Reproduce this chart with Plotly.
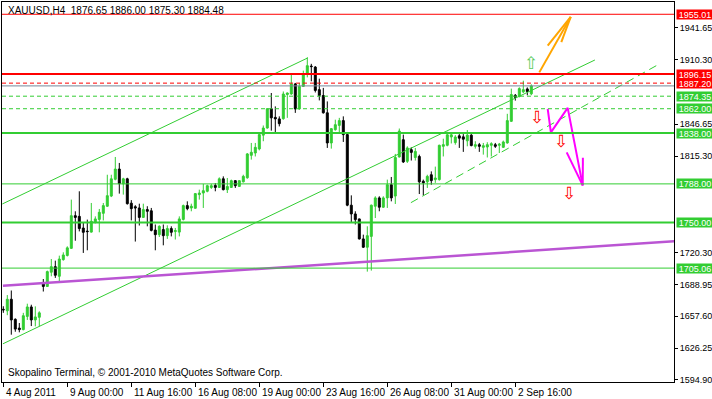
import plotly.graph_objects as go

# ---------------- data ----------------
bar_index = list(range(133))
opens = [1664.5, 1663.0, 1674.4, 1654.6, 1646.0, 1644.5, 1657.5, 1666.8, 1654.0, 1656.6,
         1689.4, 1687.0, 1701.0, 1706.5, 1697.0, 1713.4, 1717.5, 1724.5, 1756.7, 1756.0,
         1744.5, 1741.5, 1740.5, 1750.2, 1753.0, 1759.0, 1766.0, 1776.0, 1792.5, 1802.6,
         1788.0, 1793.0, 1769.0, 1765.5, 1764.3, 1755.0, 1762.7, 1761.5, 1742.5, 1738.0,
         1743.0, 1737.0, 1744.0, 1741.0, 1740.5, 1753.0, 1766.6, 1764.3, 1764.0, 1777.4,
         1779.0, 1780.7, 1784.5, 1786.5, 1784.5, 1793.0, 1782.3, 1784.5, 1791.2, 1785.5,
         1790.0, 1794.0, 1816.1, 1818.4, 1822.4, 1836.0, 1843.0, 1862.0, 1853.5, 1852.0,
         1852.2, 1876.0, 1876.5, 1886.4, 1861.8, 1884.0, 1896.5, 1904.0, 1903.0, 1880.8,
         1875.0, 1858.0, 1828.3, 1841.4, 1845.6, 1850.3, 1836.5, 1767.0, 1758.4, 1753.5,
         1733.8, 1725.6, 1736.3, 1766.0, 1774.2, 1765.0, 1774.2, 1787.2, 1776.0, 1814.5,
         1831.5, 1810.2, 1821.7, 1814.0, 1815.0, 1790.6, 1790.0, 1797.0, 1792.2, 1792.2,
         1825.0, 1826.0, 1834.2, 1828.7, 1835.3, 1834.3, 1830.4, 1836.0, 1825.0, 1826.6,
         1824.0, 1824.3, 1826.0, 1826.6, 1826.0, 1824.0, 1828.3, 1849.6, 1875.2, 1874.2,
         1878.6, 1881.5, 1876.65]
highs = [1667.5, 1678.5, 1683.0, 1655.6, 1651.0, 1661.0, 1670.0, 1669.0, 1667.4, 1662.5,
         1694.3, 1702.6, 1714.0, 1712.4, 1717.3, 1720.6, 1726.5, 1772.5, 1761.0, 1780.7,
         1749.5, 1752.8, 1769.2, 1756.0, 1763.3, 1769.2, 1797.0, 1797.0, 1814.5, 1808.6,
         1794.0, 1794.0, 1772.0, 1767.0, 1768.5, 1768.5, 1766.0, 1764.3, 1748.0, 1747.2,
         1748.0, 1747.2, 1746.2, 1744.6, 1756.0, 1767.6, 1770.8, 1768.5, 1779.0, 1782.3,
         1788.0, 1787.2, 1788.0, 1788.8, 1794.4, 1795.4, 1793.8, 1792.2, 1791.5, 1791.5,
         1797.0, 1818.4, 1828.3, 1828.3, 1837.4, 1845.5, 1862.7, 1877.5, 1864.3, 1854.5,
         1879.0, 1878.0, 1895.5, 1887.4, 1887.4, 1899.5, 1912.6, 1906.2, 1904.0, 1891.6,
         1882.5, 1869.2, 1843.0, 1851.2, 1853.0, 1854.5, 1838.0, 1776.7, 1761.0, 1753.8,
         1738.0, 1746.2, 1767.6, 1775.8, 1775.8, 1775.8, 1792.2, 1794.8, 1817.5, 1842.5,
         1836.5, 1825.0, 1824.0, 1823.4, 1816.8, 1792.2, 1797.0, 1800.3, 1805.0, 1826.6,
         1832.5, 1839.3, 1837.6, 1836.0, 1837.0, 1837.0, 1841.0, 1837.0, 1830.0, 1828.3,
         1828.3, 1829.0, 1829.0, 1828.3, 1828.3, 1830.6, 1857.0, 1881.8, 1876.5, 1883.1,
         1889.6, 1883.0, 1886.00]
lows = [1661.0, 1658.7, 1639.5, 1642.4, 1641.8, 1643.8, 1654.0, 1648.0, 1647.7, 1647.7,
        1682.0, 1686.5, 1697.0, 1695.4, 1692.0, 1712.4, 1716.5, 1724.0, 1732.0, 1741.2,
        1720.0, 1722.6, 1740.0, 1749.0, 1740.3, 1752.0, 1765.3, 1775.0, 1791.5, 1778.4,
        1777.4, 1767.6, 1752.0, 1731.2, 1747.0, 1754.4, 1746.2, 1741.2, 1722.6, 1735.7,
        1727.5, 1733.8, 1736.3, 1733.2, 1736.3, 1752.0, 1762.0, 1761.0, 1763.6, 1772.5,
        1764.3, 1779.7, 1783.0, 1780.7, 1784.0, 1781.6, 1779.0, 1784.0, 1784.0, 1785.0,
        1789.5, 1793.1, 1811.9, 1815.0, 1821.0, 1830.0, 1842.4, 1840.4, 1837.4, 1844.6,
        1851.2, 1853.0, 1875.8, 1857.9, 1861.0, 1883.4, 1892.9, 1889.0, 1878.0, 1870.2,
        1857.2, 1823.4, 1822.7, 1840.4, 1838.0, 1829.3, 1766.0, 1749.5, 1748.0, 1733.2,
        1724.9, 1701.6, 1702.6, 1754.4, 1761.0, 1764.3, 1764.3, 1770.8, 1768.2, 1814.0,
        1808.6, 1808.6, 1811.0, 1811.0, 1778.0, 1776.7, 1784.0, 1787.2, 1789.0, 1791.2,
        1815.0, 1825.0, 1827.8, 1826.6, 1823.4, 1819.5, 1825.0, 1825.0, 1822.7, 1819.5,
        1816.8, 1814.0, 1815.0, 1823.4, 1818.4, 1823.4, 1827.6, 1849.0, 1870.0, 1873.2,
        1877.5, 1875.2, 1875.30]
closes = [1664.0, 1674.4, 1654.0, 1645.0, 1644.5, 1658.2, 1666.8, 1654.0, 1657.0, 1661.0,
          1687.0, 1701.6, 1706.5, 1698.0, 1714.0, 1718.0, 1725.0, 1756.7, 1755.0, 1744.0,
          1740.3, 1741.0, 1751.2, 1753.5, 1760.0, 1766.6, 1776.4, 1793.0, 1802.6, 1788.2,
          1793.0, 1768.5, 1763.6, 1764.3, 1755.0, 1762.7, 1761.0, 1742.2, 1738.0, 1746.2,
          1737.0, 1744.0, 1740.3, 1742.0, 1753.5, 1766.6, 1763.6, 1766.0, 1778.4, 1779.0,
          1781.3, 1786.2, 1786.2, 1784.5, 1793.0, 1782.3, 1785.5, 1791.2, 1786.2, 1791.2,
          1795.4, 1817.5, 1819.1, 1824.0, 1836.5, 1843.0, 1862.0, 1853.0, 1852.0, 1847.3,
          1876.5, 1877.5, 1886.4, 1861.8, 1884.0, 1896.3, 1904.4, 1903.5, 1880.0, 1875.1,
          1858.0, 1828.3, 1842.4, 1846.3, 1850.3, 1836.5, 1767.0, 1758.4, 1752.8, 1733.8,
          1725.6, 1737.0, 1767.0, 1774.2, 1765.0, 1774.2, 1787.2, 1774.2, 1814.0, 1840.0,
          1809.6, 1823.4, 1819.0, 1820.0, 1790.0, 1789.0, 1795.4, 1791.2, 1793.8, 1826.0,
          1826.6, 1836.3, 1836.3, 1834.2, 1833.0, 1832.0, 1836.0, 1825.7, 1826.6, 1825.0,
          1825.6, 1826.6, 1827.6, 1825.0, 1827.0, 1829.3, 1850.3, 1876.0, 1873.2, 1881.8,
          1880.8, 1879.0, 1884.48]

time_tick_bars = [0, 16, 32, 48, 64, 80, 96, 112, 128]
time_tick_labels = ["4 Aug 2011", "9 Aug 00:00", "11 Aug 16:00", "16 Aug 08:00",
                    "19 Aug 00:00", "23 Aug 16:00", "26 Aug 08:00", "31 Aug 00:00",
                    "2 Sep 16:00"]

# visible price-scale ticks (the ones under the level boxes are omitted)
price_ticks = [1594.90, 1626.25, 1657.60, 1688.95, 1720.30,
               1815.30, 1846.65, 1910.30, 1941.65]
price_tick_labels = ["1594.90", "1626.25", "1657.60", "1688.95", "1720.30",
                     "1815.30", "1846.65", "1910.30", "1941.65"]

level_prices = [1955.01, 1896.15, 1887.20, 1874.35, 1862.00, 1838.00, 1788.00, 1750.00, 1705.06]
level_colors = ["#FF0000", "#FF0000", "#FF0000", "#32CD32", "#32CD32",
                "#32CD32", "#32CD32", "#32CD32", "#32CD32"]
level_widths = [1, 2, 1, 1, 1, 2, 1, 2, 1]
level_dashes = ["solid", "solid", "4px,3px", "4px,3px", "4px,3px",
                "solid", "solid", "solid", "solid"]
bid_price = 1884.48

title_text = "XAUUSD,H4\u00a0\u00a01876.65 1886.00 1875.30 1884.48"
copyright_text = "Skopalino Terminal, \u00a9 2001-2010 MetaQuotes Software Corp."

# drawn objects (anchor points as bar index / price)
chan_upper_bars = [-0.25, 76.1]
chan_upper_prices = [1768.2, 1912.0]
chan_lower_bars = [-0.1, 147.9]
chan_lower_prices = [1630.5, 1910.0]
chan_dash_bars = [101.9, 163.7]
chan_dash_prices = [1769.5, 1905.4]
purple_bars = [-0.1, 167.7]
purple_prices = [1687.6, 1731.4]
orange_bars = [134.0, 141.85, None, 136.1, 141.85, None, 139.5, 141.85]
orange_prices = [1897.8, 1952.4, None, 1924.1, 1952.4, None, 1927.5, 1952.4]
magenta_bars = [136.1, 136.9, 141.1, 144.85, None, 140.85, 144.85, None, 144.9, 144.85]
magenta_prices = [1861.8, 1838.7, 1862.8, 1786.5, None, 1819.0, 1786.5, None, 1813.8, 1786.5]
up_sign_bars = [131.85]
up_sign_prices = [1907.3]
down_sign_bars = [133.5, 139.4, 141.5]
down_sign_prices = [1853.6, 1829.8, 1779.4]

X_RANGE = [-0.325, 167.675]
Y_RANGE = [1592.9, 1967.1]
FONT = "Liberation Sans, Arial, sans-serif"
GREEN = "#32CD32"

# ---------------- figure ----------------
fig = go.Figure()

fig.add_trace(go.Candlestick(
    x=bar_index, open=opens, high=highs, low=lows, close=closes,
    increasing=dict(line=dict(color=GREEN, width=1), fillcolor=GREEN),
    decreasing=dict(line=dict(color="#000000", width=1), fillcolor="#000000"),
    whiskerwidth=0, hoverinfo="skip", showlegend=False))

def add_line(xs, ys, color, width, dash="solid"):
    fig.add_trace(go.Scatter(x=xs, y=ys, mode="lines", connectgaps=False,
                             line=dict(color=color, width=width, dash=dash),
                             hoverinfo="skip", showlegend=False))

add_line(chan_upper_bars, chan_upper_prices, GREEN, 1)
add_line(chan_lower_bars, chan_lower_prices, GREEN, 1)
add_line(chan_dash_bars, chan_dash_prices, GREEN, 1, "8px,5px")
add_line(purple_bars, purple_prices, "#BA55D3", 2.5)
add_line(orange_bars, orange_prices, "#FFA500", 2)
add_line(magenta_bars, magenta_prices, "#FF00FF", 2)

shapes = []
shapes.append(dict(type="line", xref="paper", x0=0, x1=1, yref="y", y0=bid_price, y1=bid_price,
                   line=dict(color="#778899", width=1), layer="above"))
for p, c, w, d in zip(level_prices, level_colors, level_widths, level_dashes):
    shapes.append(dict(type="line", xref="paper", x0=0, x1=1, yref="y", y0=p, y1=p,
                       line=dict(color=c, width=w, dash=d), layer="above"))

annotations = []
# time axis labels, left-aligned after each tick
for b, t in zip(time_tick_bars, time_tick_labels):
    annotations.append(dict(x=b, xref="x", y=0, yref="paper", text=t, showarrow=False,
                            xanchor="left", yanchor="top", xshift=1, yshift=-3,
                            font=dict(family=FONT, size=10, color="#000000")))
# level price labels
for p, c in zip(level_prices, level_colors):
    annotations.append(dict(x=1, xref="paper", y=p, yref="y", text="%.2f" % p,
                            showarrow=False, xanchor="left", yanchor="middle", xshift=2,
                            bgcolor=c, font=dict(family=FONT, size=9, color="#FFFFFF"),
                            width=36, height=9, align="center", borderpad=0))
# arrow signs
for b, p in zip(up_sign_bars, up_sign_prices):
    annotations.append(dict(x=b, y=p, xref="x", yref="y", text="\u21e7", showarrow=False,
                            font=dict(family="DejaVu Sans", size=17, color="#5CCB5C")))
for b, p in zip(down_sign_bars, down_sign_prices):
    annotations.append(dict(x=b, y=p, xref="x", yref="y", text="\u21e9", showarrow=False,
                            font=dict(family="DejaVu Sans", size=17, color="#FF0000")))
# title and copyright
annotations.append(dict(x=0, xref="paper", y=1, yref="paper", text=title_text, showarrow=False,
                        xanchor="left", yanchor="top", xshift=4, yshift=-1,
                        font=dict(family=FONT, size=10, color="#000000")))
annotations.append(dict(x=0, xref="paper", y=0, yref="paper", text=copyright_text, showarrow=False,
                        xanchor="left", yanchor="bottom", xshift=4, yshift=2,
                        font=dict(family=FONT, size=10, color="#000000")))

fig.update_layout(
    width=712, height=399,
    margin=dict(l=2, r=38, t=2, b=17, pad=0, autoexpand=False),
    paper_bgcolor="#FFFFFF", plot_bgcolor="#FFFFFF",
    showlegend=False, hovermode=False,
    shapes=shapes, annotations=annotations,
    font=dict(family=FONT, size=10, color="#000000"),
    xaxis=dict(range=X_RANGE, tickvals=time_tick_bars, ticktext=[""] * len(time_tick_bars),
               ticks="outside", ticklen=4, tickcolor="#000000", showgrid=False,
               zeroline=False, showline=True, linecolor="#000000", linewidth=1, mirror=True,
               rangeslider=dict(visible=False), fixedrange=True, automargin=False),
    yaxis=dict(range=Y_RANGE, side="right", tickvals=price_ticks, ticktext=price_tick_labels,
               ticks="outside", ticklen=3, tickcolor="#000000", showgrid=False,
               zeroline=False, showline=True, linecolor="#000000", linewidth=1, mirror=True,
               tickfont=dict(family=FONT, size=9, color="#000000"), fixedrange=True,
               automargin=False),
)

fig.write_html("out.html")
